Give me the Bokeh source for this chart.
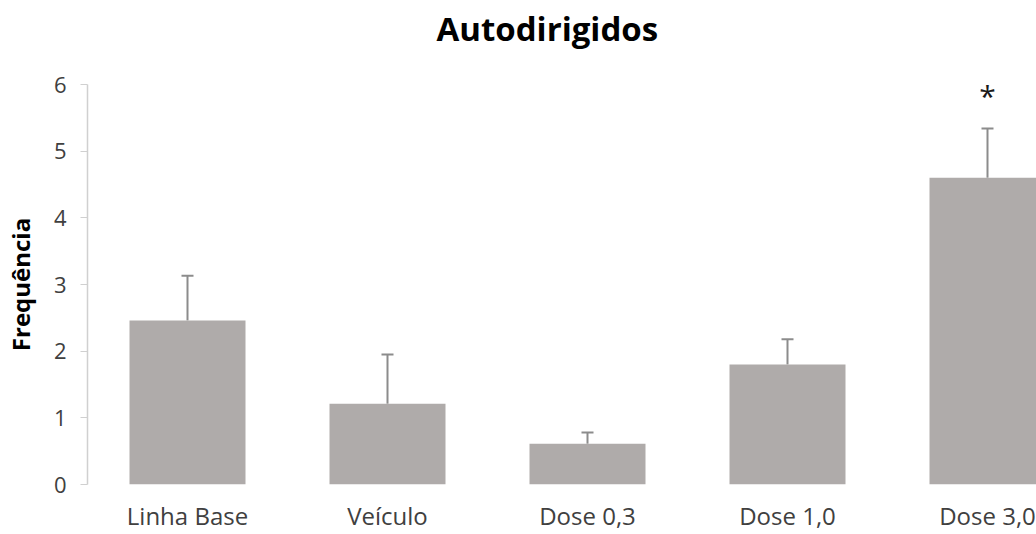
from bokeh.plotting import figure
from bokeh.models import ColumnDataSource, Range1d, FixedTicker, Whisker, TeeHead, Title
from bokeh.core.properties import value
from bokeh.embed import file_html
from bokeh.resources import INLINE

categories = ["Linha Base", "Veículo", "Dose 0,3", "Dose 1,0", "Dose 3,0"]
means = [2.46, 1.21, 0.61, 1.80, 4.60]
errors = [0.67, 0.74, 0.17, 0.38, 0.74]
significant = [False, False, False, False, True]
y_ticks = [0, 1, 2, 3, 4, 5, 6]

FONT = "Open Sans"
TXT = "#404040"

xs = list(range(1, len(categories) + 1))
src = ColumnDataSource(dict(
    x=xs,
    top=means,
    upper=[m + e for m, e in zip(means, errors)],
))

p = figure(width=1036, height=534, output_backend="svg", toolbar_location=None,
           x_range=Range1d(0.5, 5.245), y_range=Range1d(0, 6),
           min_border_left=87, min_border_right=0, min_border_top=84,
           min_border_bottom=50)
p.title = None
# empty spacer between the frame and the chart title
p.add_layout(Title(text=" ", text_font_size="1px", standoff=24), "above")
p.add_layout(Title(text="Autodirigidos", align="left", offset=349, vertical_align="top",
                   text_font=FONT, text_font_size="33px", text_font_style="bold",
                   text_color="#000000", standoff=10), "above")

p.vbar(x="x", top="top", bottom=0, width=0.58, source=src,
       fill_color="#afabaa", line_color=None)

wh = Whisker(base="x", lower="top", upper="upper", source=src,
             line_color="#8c8c8c", line_width=2,
             upper_head=TeeHead(size=12, line_color="#8c8c8c", line_width=2),
             lower_head=None)
p.add_layout(wh)

sx = [x for x, s in zip(xs, significant) if s]
sy = [m + e + 0.50 for m, e, s in zip(means, errors, significant) if s]
p.text(x=sx, y=sy, text=["*"] * len(sx), text_align="center",
       text_baseline="alphabetic", text_font=value(FONT),
       text_font_size="30px", text_color="#1a1a1a")

p.xgrid.visible = False
p.ygrid.visible = False
p.outline_line_color = None
p.background_fill_color = "white"
p.border_fill_color = "white"

xa = p.xaxis[0]
xa.ticker = FixedTicker(ticks=xs)
xa.major_label_overrides = {x: c for x, c in zip(xs, categories)}
xa.axis_line_color = None
xa.major_tick_line_color = None
xa.minor_tick_line_color = None
xa.major_tick_out = 0
xa.major_tick_in = 0
xa.major_label_standoff = 14
xa.major_label_text_font = FONT
xa.major_label_text_font_size = "24px"
xa.major_label_text_color = TXT

ya = p.yaxis[0]
ya.ticker = FixedTicker(ticks=y_ticks)
ya.bounds = (0, 6)
ya.axis_line_color = "#d0d0d0"
ya.axis_line_width = 1.5
ya.major_tick_line_color = "#d0d0d0"
ya.major_tick_out = 7
ya.major_tick_in = 0
ya.minor_tick_line_color = None
ya.major_label_standoff = 14
ya.major_label_text_font = FONT
ya.major_label_text_font_size = "22px"
ya.major_label_text_color = TXT
ya.axis_label = "Frequência"
ya.axis_label_text_font = FONT
ya.axis_label_text_font_size = "24px"
ya.axis_label_text_font_style = "bold"
ya.axis_label_text_color = "#000000"
ya.axis_label_standoff = 14

open("out.html", "w").write(file_html(p, INLINE))
